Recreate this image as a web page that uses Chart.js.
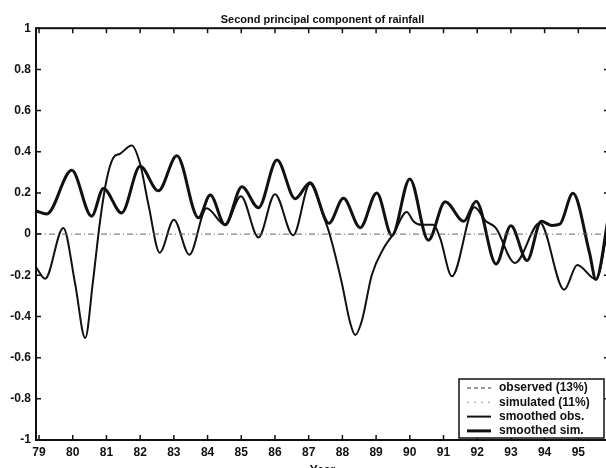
<!DOCTYPE html>
<html>
<head>
<meta charset="utf-8">
<script src="https://cdn.jsdelivr.net/npm/chart.js@4.4.0/dist/chart.umd.min.js"></script>
<style>
  html, body { margin: 0; padding: 0; background: #fff; overflow: hidden; }
  #wrap { width: 606px; height: 468px; overflow: hidden; position: relative; }
  canvas { display: block; }
</style>
</head>
<body>
<div id="wrap"><canvas id="pc2" width="612" height="478"></canvas></div>
<script>
// axis range and ticks
const yearMin = 78.91;
const yearMax = 95.91;
const yearTicks = [79, 80, 81, 82, 83, 84, 85, 86, 87, 88, 89, 90, 91, 92, 93, 94, 95];
const valueTicks = [-1, -0.8, -0.6, -0.4, -0.2, 0, 0.2, 0.4, 0.6, 0.8, 1];

// smoothed simulated PC2
const simYears = [78.91, 79.23, 79.97, 80.56, 80.91, 81.45, 82.0, 82.54, 83.09, 83.73, 84.08, 84.52, 85.02, 85.51, 86.06, 86.6, 87.04, 87.6, 88.03, 88.53, 89.02, 89.47, 90.0, 90.55, 91.05, 91.6, 91.97, 92.56, 93.0, 93.48, 93.9, 94.22, 94.45, 94.84, 95.33, 95.52, 95.91];
const simValues = [0.113, 0.098, 0.31, 0.087, 0.222, 0.103, 0.329, 0.21, 0.38, 0.079, 0.19, 0.045, 0.23, 0.128, 0.36, 0.172, 0.25, 0.053, 0.174, 0.031, 0.2, -0.007, 0.268, -0.03, 0.157, 0.062, 0.16, -0.145, 0.04, -0.128, 0.062, 0.042, 0.048, 0.198, -0.09, -0.22, 0.1];

// smoothed observed PC2
const obsYears = [78.91, 79.18, 79.72, 80.07, 80.37, 80.6, 80.8, 81.0, 81.2, 81.4, 81.75, 82.0, 82.25, 82.58, 83.0, 83.46, 83.97, 84.52, 84.99, 85.51, 86.0, 86.54, 87.04, 87.44, 87.64, 87.98, 88.23, 88.38, 88.58, 88.87, 89.22, 89.51, 89.91, 90.12, 90.35, 90.7, 90.9, 91.25, 91.92, 92.25, 92.55, 93.12, 93.86, 94.58, 94.97, 95.52, 95.91];
const obsValues = [-0.16, -0.217, 0.03, -0.24, -0.505, -0.23, 0.05, 0.26, 0.37, 0.39, 0.43, 0.34, 0.14, -0.09, 0.07, -0.10, 0.125, 0.045, 0.184, -0.016, 0.194, -0.006, 0.245, 0.087, -0.01, -0.235, -0.43, -0.49, -0.42, -0.2, -0.07, 0.0, 0.107, 0.06, 0.045, 0.045, -0.02, -0.205, 0.13, 0.064, 0.03, -0.14, 0.055, -0.27, -0.15, -0.22, 0.06];

const seriesLabels = ['observed (13%)', 'simulated (11%)', 'smoothed obs.', 'smoothed sim.'];

const font = "'Liberation Sans', Arial, Helvetica, sans-serif";
const ink = '#111';

let pts = (xs, ys) => xs.map((x, i) => ({ x: x, y: ys[i] }));

// box, inward ticks and the legend, drawn over the chart
const frame = {
  id: 'frame',
  afterDraw(chart) {
    const { ctx, chartArea: a, scales: { x, y } } = chart;
    ctx.save();
    ctx.strokeStyle = ink;
    ctx.lineWidth = 2;
    ctx.strokeRect(a.left, a.top, a.right - a.left, a.bottom - a.top);
    ctx.lineWidth = 1.5;
    ctx.beginPath();
    x.ticks.forEach(t => {
      let px = x.getPixelForValue(t.value);
      ctx.moveTo(px, a.bottom); ctx.lineTo(px, a.bottom - 5);
      ctx.moveTo(px, a.top); ctx.lineTo(px, a.top + 5);
    });
    y.ticks.forEach(t => {
      let py = y.getPixelForValue(t.value);
      ctx.moveTo(a.left, py); ctx.lineTo(a.left + 5, py);
      ctx.moveTo(a.right, py); ctx.lineTo(a.right - 5, py);
    });
    ctx.stroke();

    // legend
    const w = 145, h = 59;
    const bx = a.right - 5 - w, by = a.bottom - 2 - h;
    ctx.fillStyle = '#fff';
    ctx.fillRect(bx, by, w, h);
    ctx.lineWidth = 1.5;
    ctx.strokeStyle = ink;
    ctx.strokeRect(bx, by, w, h);
    ctx.font = 'bold 12px ' + font;
    ctx.textBaseline = 'middle';
    ctx.textAlign = 'left';
    chart.data.datasets.filter(d => seriesLabels.includes(d.label)).forEach((d, i) => {
      let ry = by + 9 + i * 14.3;
      ctx.beginPath();
      ctx.strokeStyle = d.borderColor;
      ctx.lineWidth = d.borderWidth;
      ctx.setLineDash(d.borderDash || []);
      ctx.moveTo(bx + 8, ry); ctx.lineTo(bx + 32, ry);
      ctx.stroke();
      ctx.setLineDash([]);
      ctx.fillStyle = ink;
      ctx.fillText(d.label, bx + 40, ry);
    });
    ctx.restore();
  }
};

new Chart(document.getElementById('pc2'), {
  type: 'line',
  data: {
    datasets: [
      {
        label: 'zero',
        data: [{ x: yearMin, y: 0 }, { x: yearMax, y: 0 }],
        borderColor: '#666', borderWidth: 1, borderDash: [6, 3, 1, 3]
      },
      { label: seriesLabels[0], data: [], borderColor: '#333', borderWidth: 1, borderDash: [4, 3] },
      { label: seriesLabels[1], data: [], borderColor: '#999', borderWidth: 1, borderDash: [2, 5] },
      {
        label: seriesLabels[2], data: pts(obsYears, obsValues),
        borderColor: ink, borderWidth: 2, cubicInterpolationMode: 'monotone'
      },
      {
        label: seriesLabels[3], data: pts(simYears, simValues),
        borderColor: ink, borderWidth: 3, cubicInterpolationMode: 'monotone'
      }
    ]
  },
  options: {
    responsive: false,
    animation: false,
    devicePixelRatio: 1,
    parsing: false,
    elements: { point: { radius: 0 } },
    layout: { padding: { left: 0, right: 3, top: 0, bottom: 0 } },
    plugins: {
      legend: { display: false },
      tooltip: { enabled: false },
      title: {
        display: true,
        fullSize: false,
        text: 'Second principal component of rainfall',
        color: ink,
        font: { family: font, size: 11, weight: 'bold' },
        padding: { top: 13, bottom: 2 }
      }
    },
    scales: {
      x: {
        type: 'linear',
        min: yearMin,
        max: yearMax,
        afterBuildTicks: s => { s.ticks = yearTicks.map(v => ({ value: v })); },
        afterFit: s => { s.height = 38; },
        grid: { display: false, drawTicks: false },
        border: { display: false },
        ticks: {
          color: ink, padding: 5, maxRotation: 0, autoSkip: false,
          font: { family: font, size: 12, weight: 'bold' },
          callback: v => String(v)
        },
        title: {
          display: true, text: 'Year', color: ink,
          font: { family: font, size: 12, weight: 'bold' },
          padding: { top: 0, bottom: 0 }
        }
      },
      y: {
        min: -1,
        max: 1,
        afterBuildTicks: s => { s.ticks = valueTicks.map(v => ({ value: v })); },
        afterFit: s => { s.width = 36; },
        grid: { display: false, drawTicks: false },
        border: { display: false },
        ticks: {
          color: ink, padding: 5, autoSkip: false,
          font: { family: font, size: 12, weight: 'bold' },
          callback: v => String(v)
        }
      }
    }
  },
  plugins: [frame]
});
</script>
</body>
</html>
